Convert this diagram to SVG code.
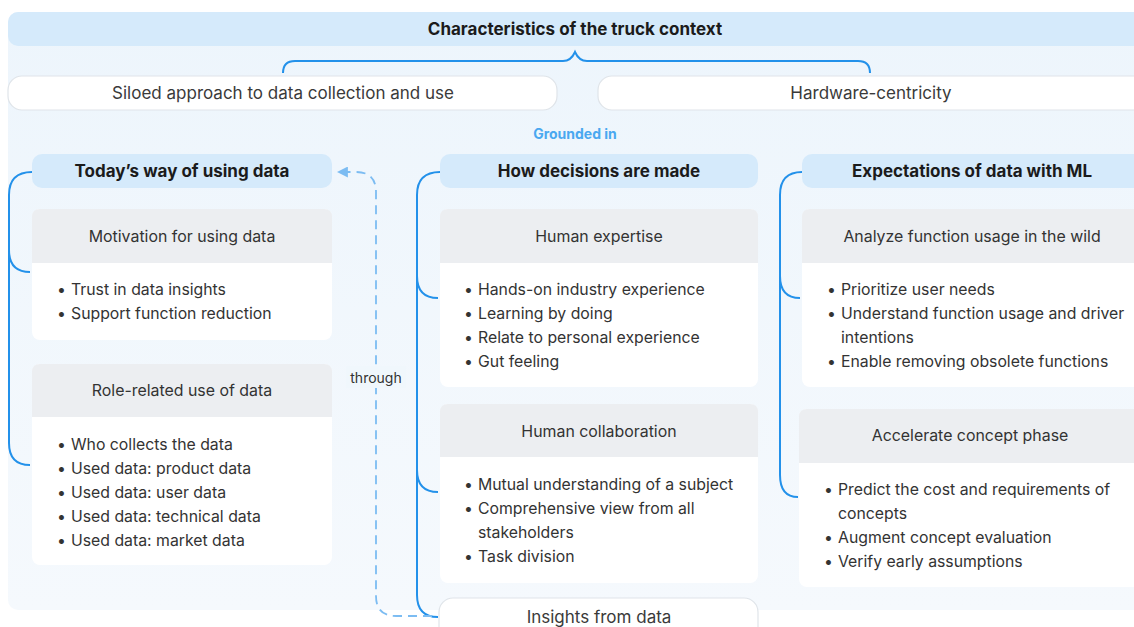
<svg xmlns="http://www.w3.org/2000/svg" width="1134" height="627" viewBox="0 0 1134 627">
  <style>
    text { font-family: Inter, "Noto Sans", "Liberation Sans", sans-serif; }
    .hdr { fill: #d5eafb; }
    .hdr-t { font-size: 17px; font-weight: 700; fill: #1b1b1b; text-anchor: middle; }
    .pill { fill: #ffffff; stroke: #dfe4e9; stroke-width: 1.2; }
    .pill-t { font-size: 17px; fill: #3a3a3a; text-anchor: middle; }
    .card-h { fill: #eceef1; }
    .card-b { fill: #ffffff; }
    .card-t { font-size: 15.9px; fill: #333333; text-anchor: middle; }
    .li { font-size: 15.8px; fill: #333333; }
    .tree { fill: none; stroke: #2391ea; stroke-width: 2; }
    .dash { fill: none; stroke: #7cbcf2; stroke-width: 1.8; stroke-dasharray: 9 6; }
    .lbl { font-size: 14px; fill: #333333; text-anchor: middle; }
    .lbl-blue { font-size: 14px; font-weight: 700; fill: #4aa8f0; text-anchor: middle; }
  </style>
  <defs>
    <linearGradient id="panelFill" x1="0" y1="0" x2="0" y2="1">
      <stop offset="0" stop-color="#edf5fc"/>
      <stop offset="1" stop-color="#f5f9fd"/>
    </linearGradient>
    <marker id="arrowLeft" viewBox="0 0 10 10" refX="9" refY="5" markerWidth="11" markerHeight="11" markerUnits="userSpaceOnUse" orient="auto">
      <path d="M0,0 L10,5 L0,10 Z" fill="#7cbcf2"/>
    </marker>
  </defs>

  <rect width="1134" height="627" fill="#ffffff"/>
  <rect x="8" y="12" width="1150" height="598" rx="10" fill="url(#panelFill)"/>

  <!-- top heading -->
  <g id="context">
    <rect class="hdr" x="8" y="12" width="1150" height="34" rx="10"/>
    <text class="hdr-t" x="575" y="35">Characteristics of the truck context</text>
  </g>

  <g id="siloed">
    <rect class="pill" x="8" y="76" width="549" height="34" rx="14"/>
    <text class="pill-t" x="283" y="99">Siloed approach to data collection and use</text>
  </g>
  <g id="hardware">
    <rect class="pill" x="598" y="76" width="560" height="34" rx="14"/>
    <text class="pill-t" x="871" y="99">Hardware-centricity</text>
  </g>

  <text class="lbl-blue" x="575" y="139">Grounded in</text>

  <!-- connectors -->
  <g id="connectors">
    <!-- brace under the heading -->
    <path class="tree" d="M283 73 Q283 61 295 61 L563 61 Q571 61 575 52 Q579 61 587 61 L858 61 Q870 61 870 73"/>
    <!-- left column tree -->
    <path class="tree" d="M32 172 Q9 172 9 195 L9 443 Q9 465 30 465"/>
    <path class="tree" d="M9 250 Q9 272 30 272"/>
    <!-- middle column tree -->
    <path class="tree" d="M440 172 Q417 172 417 195 L417 595 Q417 617 438 617"/>
    <path class="tree" d="M417 276 Q417 298 438 298"/>
    <path class="tree" d="M417 470 Q417 492 438 492"/>
    <!-- right column tree -->
    <path class="tree" d="M802 172 Q780 172 780 195 L780 475 Q780 497 798 497"/>
    <path class="tree" d="M780 276 Q780 298 800 298"/>
    <!-- feedback loop -->
    <path class="dash" d="M432 616 L396 616 Q376 616 376 596 L376 192 Q376 172 356 172 L338 172" marker-end="url(#arrowLeft)"/>
    <rect x="346" y="366" width="60" height="22" fill="#f0f7fc"/>
    <text class="lbl" x="376" y="383">through</text>
  </g>

  <!-- left column -->
  <g id="todays-way">
    <rect class="hdr" x="32" y="154" width="300" height="34" rx="10"/>
    <text class="hdr-t" x="182" y="177">Today’s way of using data</text>
  </g>
  <g id="motivation">
    <rect class="card-b" x="32" y="209" width="300" height="131" rx="8"/>
    <path class="card-h" d="M40 209 H324 Q332 209 332 217 V263 H32 V217 Q32 209 40 209 Z"/>
    <text class="card-t" x="182" y="242">Motivation for using data</text>
    <text class="li" x="57" y="295">•</text><text class="li" x="71" y="295">Trust in data insights</text>
    <text class="li" x="57" y="319">•</text><text class="li" x="71" y="319">Support function reduction</text>
  </g>
  <g id="role-related">
    <rect class="card-b" x="32" y="364" width="300" height="201" rx="8"/>
    <path class="card-h" d="M40 364 H324 Q332 364 332 372 V417 H32 V372 Q32 364 40 364 Z"/>
    <text class="card-t" x="182" y="396">Role-related use of data</text>
    <text class="li" x="57" y="450">•</text><text class="li" x="71" y="450">Who collects the data</text>
    <text class="li" x="57" y="474">•</text><text class="li" x="71" y="474">Used data: product data</text>
    <text class="li" x="57" y="498">•</text><text class="li" x="71" y="498">Used data: user data</text>
    <text class="li" x="57" y="522">•</text><text class="li" x="71" y="522">Used data: technical data</text>
    <text class="li" x="57" y="546">•</text><text class="li" x="71" y="546">Used data: market data</text>
  </g>

  <!-- middle column -->
  <g id="decisions">
    <rect class="hdr" x="440" y="154" width="318" height="34" rx="10"/>
    <text class="hdr-t" x="599" y="177">How decisions are made</text>
  </g>
  <g id="expertise">
    <rect class="card-b" x="440" y="209" width="318" height="178" rx="8"/>
    <path class="card-h" d="M448 209 H750 Q758 209 758 217 V263 H440 V217 Q440 209 448 209 Z"/>
    <text class="card-t" x="599" y="242">Human expertise</text>
    <text class="li" x="464" y="295">•</text><text class="li" x="478" y="295">Hands-on industry experience</text>
    <text class="li" x="464" y="319">•</text><text class="li" x="478" y="319">Learning by doing</text>
    <text class="li" x="464" y="343">•</text><text class="li" x="478" y="343">Relate to personal experience</text>
    <text class="li" x="464" y="367">•</text><text class="li" x="478" y="367">Gut feeling</text>
  </g>
  <g id="collaboration">
    <rect class="card-b" x="440" y="404" width="318" height="179" rx="8"/>
    <path class="card-h" d="M448 404 H750 Q758 404 758 412 V457 H440 V412 Q440 404 448 404 Z"/>
    <text class="card-t" x="599" y="437">Human collaboration</text>
    <text class="li" x="464" y="490">•</text><text class="li" x="478" y="490">Mutual understanding of a subject</text>
    <text class="li" x="464" y="514">•</text><text class="li" x="478" y="514">Comprehensive view from all</text>
    <text class="li" x="478" y="538">stakeholders</text>
    <text class="li" x="464" y="562">•</text><text class="li" x="478" y="562">Task division</text>
  </g>
  <g id="insights">
    <rect class="pill" x="439" y="598" width="319" height="44" rx="14"/>
    <text class="pill-t" x="599" y="623">Insights from data</text>
  </g>

  <!-- right column -->
  <g id="expectations">
    <rect class="hdr" x="802" y="154" width="356" height="34" rx="10"/>
    <text class="hdr-t" x="972" y="177">Expectations of data with ML</text>
  </g>
  <g id="usage">
    <rect class="card-b" x="802" y="209" width="356" height="178" rx="8"/>
    <path class="card-h" d="M810 209 H1150 Q1158 209 1158 217 V263 H802 V217 Q802 209 810 209 Z"/>
    <text class="card-t" x="972" y="242">Analyze function usage in the wild</text>
    <text class="li" x="827" y="295">•</text><text class="li" x="841" y="295">Prioritize user needs</text>
    <text class="li" x="827" y="319">•</text><text class="li" x="841" y="319">Understand function usage and driver</text>
    <text class="li" x="841" y="343">intentions</text>
    <text class="li" x="827" y="367">•</text><text class="li" x="841" y="367">Enable removing obsolete functions</text>
  </g>
  <g id="concept">
    <rect class="card-b" x="799" y="409" width="359" height="178" rx="8"/>
    <path class="card-h" d="M807 409 H1150 Q1158 409 1158 417 V463 H799 V417 Q799 409 807 409 Z"/>
    <text class="card-t" x="970" y="441">Accelerate concept phase</text>
    <text class="li" x="824" y="495">•</text><text class="li" x="838" y="495">Predict the cost and requirements of</text>
    <text class="li" x="838" y="519">concepts</text>
    <text class="li" x="824" y="543">•</text><text class="li" x="838" y="543">Augment concept evaluation</text>
    <text class="li" x="824" y="567">•</text><text class="li" x="838" y="567">Verify early assumptions</text>
  </g>
</svg>
